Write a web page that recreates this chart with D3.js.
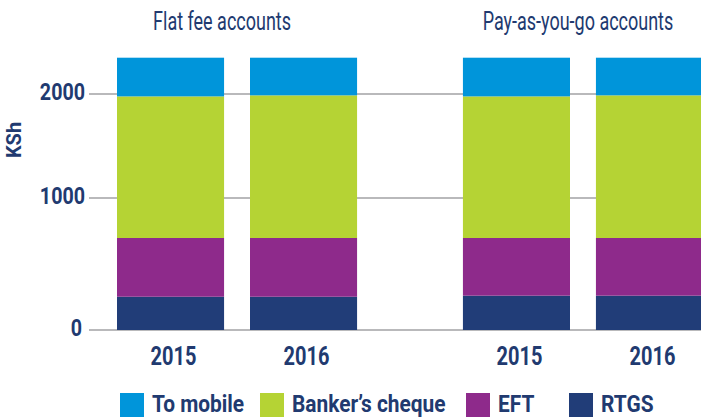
<!doctype html>
<html lang="en">
<head>
  <meta charset="utf-8">
  <title>KSh fees</title>
  <script src="https://cdn.jsdelivr.net/npm/d3@7"></script>
  <style>
    body { margin: 0; background: #fff; }
    svg text { font-family: Roboto, "Noto Sans", sans-serif; fill: #213a70; }
    .title { font-size: 25px; font-weight: 400; }
    .bold { font-weight: bold; }
  </style>
</head>
<body>
<svg id="chart" width="701" height="420"></svg>
<script>
  // data
  var groups = ["Flat fee accounts", "Pay-as-you-go accounts"];
  var years = ["2015", "2016"];
  var seriesNames = ["RTGS", "EFT", "Banker\u2019s cheque", "To mobile"];
  var colors = ["#213d78", "#8e2a8b", "#b5d334", "#0095da"];
  // one value per bar: flat 2015, flat 2016, payg 2015, payg 2016
  var rtgs = [252, 252, 260, 260];
  var eft = [445, 445, 437, 437];
  var cheque = [1280, 1290, 1280, 1290];
  var toMobile = [372, 362, 372, 362];
  var yTicks = [0, 1000, 2000];
  var legendOrder = ["To mobile", "Banker\u2019s cheque", "EFT", "RTGS"];

  var svg = d3.select("#chart");

  // no condensed face is installed, so squeeze the text sideways
  function squeeze(sel, x, y, sx) {
    sel.attr("transform", function(d, i) {
      return "translate(" + x(d, i) + "," + y(d, i) + ") scale(" + sx + ",1)";
    });
  }

  var x0 = d3.scaleBand().domain(groups).range([117, 703]).paddingInner(0.306);
  var x1 = d3.scaleBand().domain(years).range([0, x0.bandwidth()]).paddingInner(0.195);
  // the printed axis is not evenly spaced, so map it piecewise
  var y = d3.scaleLinear().domain([0, 1000, 2000]).range([330, 198, 94]);

  // gridlines
  svg.append("g").selectAll("line")
    .data(yTicks).enter()
    .append("line")
      .attr("x1", 89).attr("x2", 701)
      .attr("y1", function(d) { return y(d); })
      .attr("y2", function(d) { return y(d); })
      .attr("stroke", "#b9b9bb")
      .attr("stroke-width", 2);

  // y tick labels
  var tickG = svg.append("g").selectAll("text")
    .data(yTicks).enter()
    .append("text")
      .attr("class", "bold")
      .attr("text-anchor", "end")
      .style("font-size", "24px")
      .text(d3.format("d"));
  squeeze(tickG, function(d) { return d === 0 ? 82 : 85; }, function(d) { return y(d) + 6; }, 0.82);

  svg.append("text")
    .attr("class", "bold")
    .attr("transform", "translate(21,140) rotate(-90)")
    .attr("text-anchor", "middle")
    .style("font-size", "20px")
    .text("KSh");

  // stack
  var rows = [];
  groups.forEach(function(g, gi) {
    years.forEach(function(yr, yi) {
      var i = gi * 2 + yi;
      rows.push({ group: g, year: yr, "RTGS": rtgs[i], "EFT": eft[i], "Banker\u2019s cheque": cheque[i], "To mobile": toMobile[i] });
    });
  });
  var stacked = d3.stack().keys(seriesNames)(rows);

  svg.append("g").selectAll("g")
    .data(stacked).enter()
    .append("g")
      .attr("fill", function(d, i) { return colors[i]; })
    .selectAll("rect")
      .data(function(d) { return d; }).enter()
      .append("rect")
        .attr("x", function(d) { return x0(d.data.group) + x1(d.data.year); })
        .attr("width", x1.bandwidth())
        .attr("y", function(d) { return y(d[1]); })
        .attr("height", function(d) { return y(d[0]) - y(d[1]); });

  // year labels
  var yearG = svg.append("g").selectAll("text")
    .data(rows).enter()
    .append("text")
      .attr("class", "bold")
      .attr("text-anchor", "middle")
      .style("font-size", "25px")
      .text(function(d) { return d.year; });
  squeeze(yearG, function(d) { return x0(d.group) + x1(d.year) + x1.bandwidth() / 2 + 3; }, function() { return 365; }, 0.8);

  // group titles
  var titleShift = [-15, -5];
  var titleG = svg.append("g").selectAll("text")
    .data(groups).enter()
    .append("text")
      .attr("class", "title")
      .attr("text-anchor", "middle")
      .text(function(d) { return d; });
  squeeze(titleG, function(d, i) { return x0(d) + x0.bandwidth() / 2 + titleShift[i]; }, function() { return 30; }, 0.72);

  // legend
  var legendX = [120, 260, 466, 569];
  var lg = svg.append("g").selectAll("g")
    .data(legendOrder).enter()
    .append("g")
      .attr("transform", function(d, i) { return "translate(" + legendX[i] + ",393)"; });
  lg.append("rect")
    .attr("width", 24).attr("height", 24)
    .attr("fill", function(d) { return colors[seriesNames.indexOf(d)]; });
  var legText = lg.append("text")
    .attr("class", "bold")
    .style("font-size", "24px")
    .text(function(d) { return d; });
  squeeze(legText, function() { return 32; }, function() { return 19; }, 0.87);
</script>
</body>
</html>
